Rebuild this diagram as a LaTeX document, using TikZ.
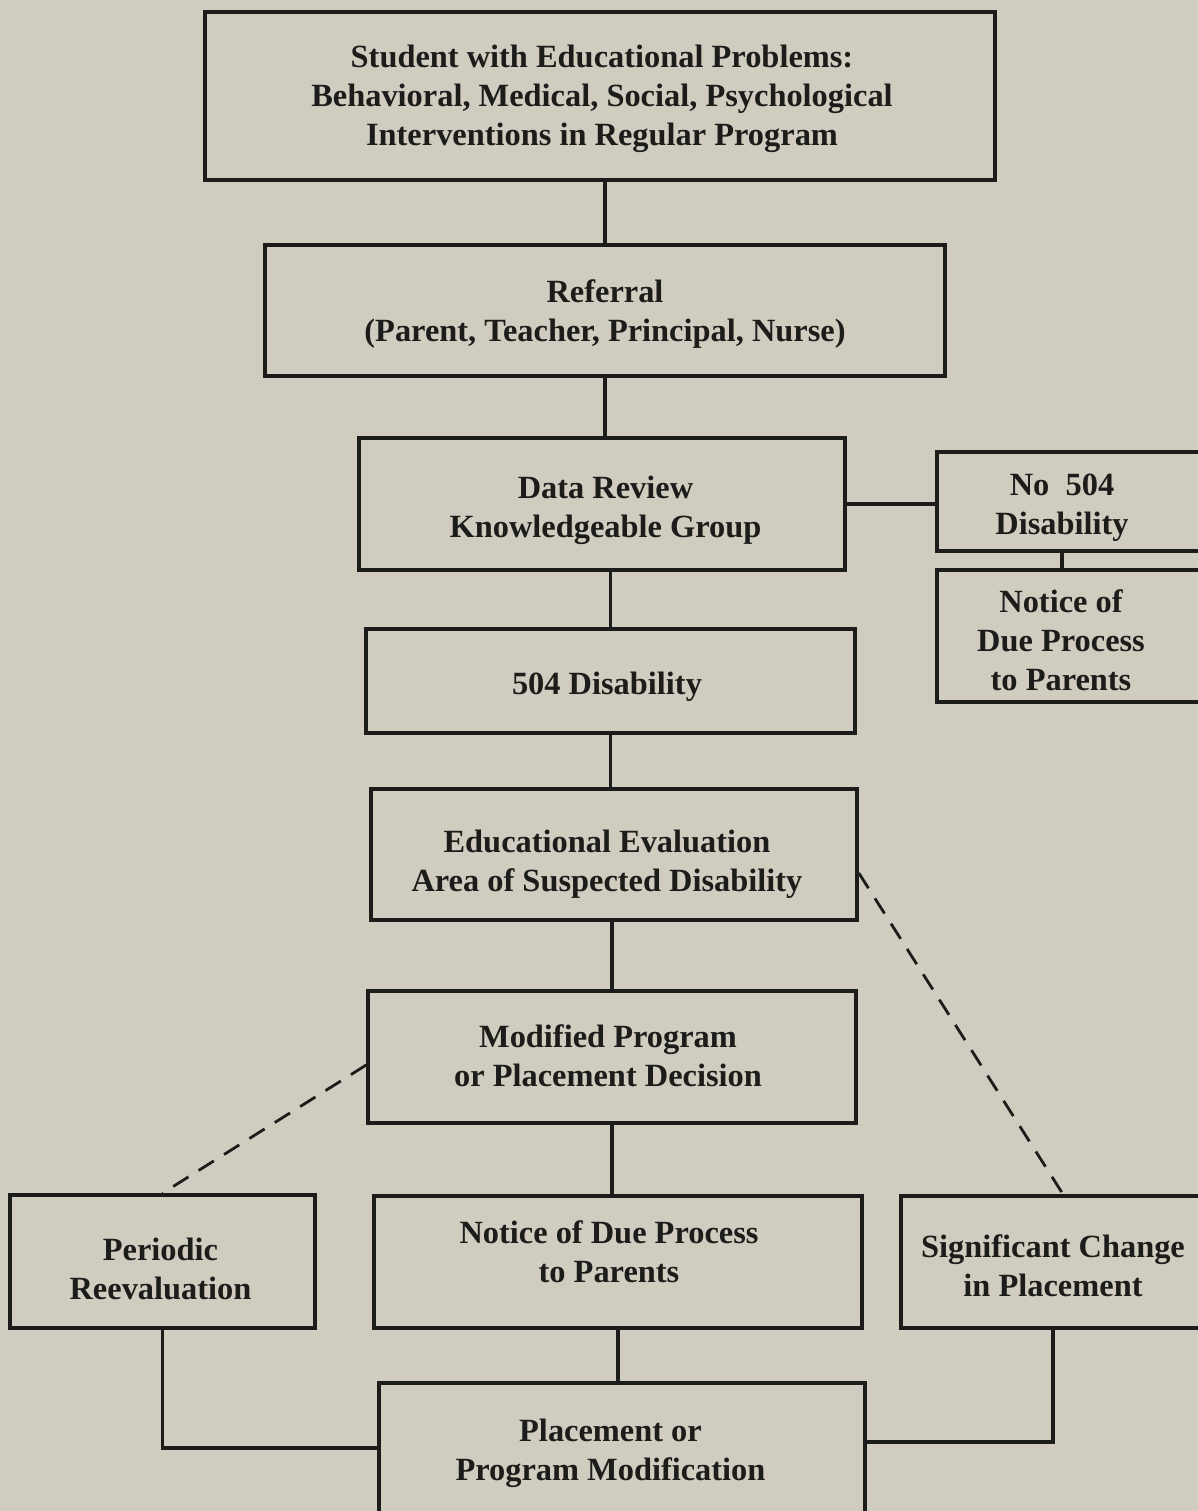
\documentclass[tikz,border=0pt]{standalone}
\usepackage{fontspec}
\setmainfont{Liberation Serif}
\definecolor{bg}{RGB}{208,205,192}
\definecolor{ink}{RGB}{28,28,26}
\begin{document}
\begin{tikzpicture}[x=0.5pt,y=-0.5pt,
  txtfont/.style={font=\bfseries\fontsize{16.2}{19.5}\selectfont, text=ink},
  box/.style={draw=ink, line width=1.8pt, inner sep=0pt},
  lbl/.style={align=center, inner sep=0pt, txtfont},
  conn/.style={draw=ink, line width=1.8pt},
  dashconn/.style={draw=ink, line width=1.4pt, dash pattern=on 9pt off 6pt}]
\fill[bg] (0,0) rectangle (1198,1511);
\useasboundingbox (0,0) rectangle (1198,1511);
\clip (0,0) rectangle (1198,1511);

\node[box, minimum width=395pt, minimum height=84pt,
  label={[lbl,xshift=1pt,yshift=-1.5pt]center:{Student with Educational Problems:\\Behavioral, Medical, Social, Psychological\\Interventions in Regular Program}}]
  (b1) at (600,96) {};
\node[box, minimum width=340pt, minimum height=65.5pt,
  label={[lbl,yshift=-2pt]center:{Referral\\(Parent, Teacher, Principal, Nurse)}}]
  (b2) at (605,310.5) {};
\node[box, minimum width=243pt, minimum height=66pt,
  label={[lbl,xshift=1.75pt,yshift=-3pt]center:{Data Review\\Knowledgeable Group}}]
  (b3) at (602,504) {};
\node[box, anchor=west, minimum width=150pt, minimum height=49.5pt] (nodis) at (935,501.5) {};
\node[lbl] (nodislbl) at (1062,508) {No\enspace 504\\Disability};
\node[box, anchor=west, minimum width=150pt, minimum height=66pt] (nright) at (935,636) {};
\node[lbl] (nrightlbl) at (1061,640) {Notice of\\Due Process\\to Parents};
\node[box, minimum width=244.5pt, minimum height=52pt,
  label={[lbl,xshift=-1.75pt,yshift=-3pt]center:{504 Disability}}]
  (b4) at (610.5,681) {};
\node[box, minimum width=243pt, minimum height=65.5pt,
  label={[lbl,xshift=-3.5pt,yshift=-4.75pt]center:{Educational Evaluation\\Area of Suspected Disability}}]
  (b5) at (614,854.5) {};
\node[box, minimum width=244pt, minimum height=66pt,
  label={[lbl,xshift=-2pt,yshift=0.5pt]center:{Modified Program\\or Placement Decision}}]
  (b6) at (612,1057) {};
\node[box, minimum width=244pt, minimum height=66pt,
  label={[lbl,xshift=-4.5pt,yshift=5pt]center:{Notice of Due Process\\to Parents}}]
  (b7) at (618,1262) {};
\node[box, minimum width=152.5pt, minimum height=66.5pt,
  label={[lbl,xshift=-1pt,yshift=-3.5pt]center:{Periodic\\Reevaluation}}]
  (per) at (162.5,1261.5) {};
\node[box, minimum width=152pt, minimum height=66pt,
  label={[lbl,yshift=-2pt]center:{Significant Change\\in Placement}}]
  (sig) at (1053,1262) {};
\node[box, minimum width=243pt, minimum height=70pt,
  label={[lbl,xshift=-5.75pt]center:{Placement or\\Program Modification}}]
  (bot) at (622,1453) {};

\draw[conn] (b2.north) -- (b2.north |- b1.south);
\draw[conn] (b2.south) -- (b2.south |- b3.north);
\draw[conn] (b3.east) -- (b3.east -| nodis.west);
\draw[conn] (nodis.south -| nodislbl) -- (nright.north -| nodislbl);
\draw[conn] (b4.north) -- (b4.north |- b3.south);
\draw[conn] (b4.south) -- (b4.south |- b5.north);
\draw[conn] (b6.north) -- (b6.north |- b5.south);
\draw[conn] (b6.south) -- (b6.south |- b7.north);
\draw[conn] (b7.south) -- (b7.south |- bot.north);
\draw[conn] (per.south) |- ([yshift=2.5pt]bot.west);
\draw[conn] (sig.south) |- ([yshift=5.5pt]bot.east);
\draw[dashconn] ([yshift=-4pt]b6.west) -- (per.north);
\draw[dashconn] ([yshift=-9.25pt]b5.east) -- ([xshift=5pt]sig.north);
\end{tikzpicture}
\end{document}
